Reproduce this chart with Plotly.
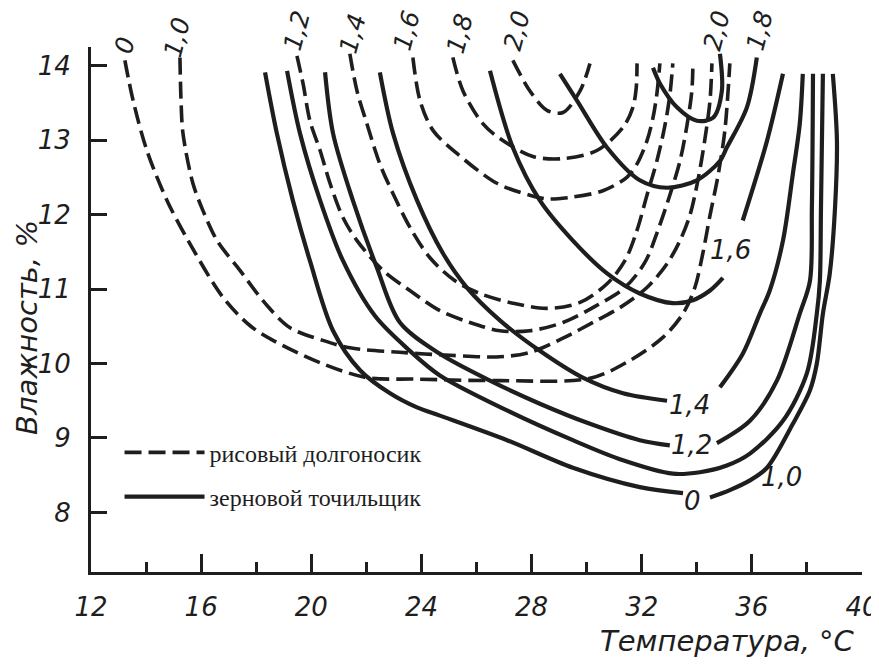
import plotly.graph_objects as go

# ---------------- data (temperature °C, humidity %) ----------------
# рисовый долгоносик (dashed), contour levels 0 ... 2.0
rw_0_T = [13.23, 13.53, 14.03, 14.76, 15.59, 16.79, 17.77, 18.61, 20.32, 22.02, 23.84, 26.85, 30.12, 31.57, 32.77, 33.50, 33.93, 34.22, 34.48, 34.77, 35.02, 35.20]
rw_0_H = [14.07, 13.53, 12.86, 12.19, 11.61, 10.89, 10.51, 10.31, 10.01, 9.81, 9.79, 9.77, 9.80, 10.04, 10.35, 10.67, 11.02, 11.48, 11.99, 12.52, 13.13, 14.03]
rw_10_T = [15.23, 15.27, 15.34, 15.70, 16.07, 16.58, 17.41, 18.32, 19.23, 20.42, 21.40, 23.22, 25.04, 26.85, 27.94, 29.14, 30.37, 31.21, 32.19, 32.92, 33.39, 33.75, 34.04, 34.29, 34.48, 34.55]
rw_10_H = [14.11, 13.53, 13.09, 12.42, 12.05, 11.65, 11.25, 10.81, 10.48, 10.31, 10.21, 10.15, 10.11, 10.09, 10.15, 10.34, 10.58, 10.75, 11.02, 11.34, 11.65, 11.99, 12.46, 13.00, 13.53, 14.03]
rw_12_T = [19.48, 19.70, 19.95, 20.32, 20.68, 21.15, 21.66, 22.60, 23.58, 24.67, 25.76, 26.85, 27.94, 29.14, 30.37, 31.39, 32.12, 32.59, 33.02, 33.39, 33.64, 33.82, 33.86]
rw_12_H = [14.13, 13.76, 13.26, 12.86, 12.42, 11.96, 11.65, 11.25, 10.98, 10.71, 10.55, 10.44, 10.44, 10.55, 10.78, 11.02, 11.36, 11.79, 12.26, 12.72, 13.19, 13.66, 14.03]
rw_14_T = [21.40, 21.66, 22.02, 22.49, 22.97, 23.58, 24.31, 25.22, 26.12, 27.32, 28.56, 29.76, 30.74, 31.39, 31.83, 32.19, 32.55, 32.84, 33.02, 33.13]
rw_14_H = [14.16, 13.66, 13.22, 12.68, 12.28, 11.83, 11.42, 11.11, 10.94, 10.81, 10.74, 10.82, 11.07, 11.38, 11.79, 12.26, 12.72, 13.19, 13.60, 14.03]
rw_16_T = [23.69, 23.95, 24.42, 25.29, 26.74, 27.94, 28.56, 29.39, 30.59, 31.46, 31.83, 32.19, 32.41, 32.55, 32.66]
rw_16_H = [14.11, 13.53, 13.13, 12.82, 12.42, 12.26, 12.21, 12.23, 12.32, 12.50, 12.68, 12.99, 13.30, 13.62, 14.03]
rw_18_T = [25.14, 25.51, 26.23, 26.85, 28.05, 29.14, 30.37, 31.32, 31.68, 31.80, 31.83]
rw_18_H = [14.11, 13.66, 13.22, 13.02, 12.78, 12.75, 12.86, 13.17, 13.44, 13.70, 14.03]
rw_20_T = [27.32, 27.94, 28.56, 29.14, 29.76, 30.12]
rw_20_H = [14.07, 13.66, 13.40, 13.37, 13.66, 14.03]

# зерновой точильщик (solid); None = gap for the inline label
lgb_0_T = [18.32, 18.75, 19.33, 19.95, 20.79, 21.77, 22.86, 23.84, 24.67, 27.11, 29.50, 31.93, 33.50, None,
           34.48, 35.20, 35.93, 36.55, 37.49, 38.11, 38.36, 38.58, 38.83, 39.02, 39.09, 38.94]
lgb_0_H = [13.91, 13.09, 12.19, 11.38, 10.44, 9.91, 9.60, 9.41, 9.30, 8.97, 8.60, 8.34, 8.26, None,
           8.20, 8.30, 8.43, 8.60, 9.19, 9.64, 10.00, 10.67, 11.21, 12.09, 12.99, 13.89]
lgb_10_T = [19.12, 19.59, 20.32, 21.15, 22.31, 23.58, 24.67, 27.11, 29.50, 31.32, 33.13, 34.11, 35.09, 35.93, 37.13, 38.00, 38.36, 38.47, 38.51, 38.58]
lgb_10_H = [13.93, 13.09, 12.19, 11.38, 10.64, 10.17, 9.84, 9.37, 8.97, 8.70, 8.52, 8.54, 8.63, 8.79, 9.23, 9.87, 10.67, 11.11, 12.09, 13.89]
lgb_12_T = [20.50, 20.79, 21.51, 22.38, 23.22, 24.67, 26.49, 28.30, 30.12, 31.93, 33.02, None,
            34.73, 35.93, 36.91, 37.74, 38.11, 38.18, 38.22]
lgb_12_H = [13.91, 13.09, 12.19, 11.29, 10.55, 10.13, 9.77, 9.46, 9.19, 8.97, 8.90, None,
            8.93, 9.23, 9.77, 10.67, 11.11, 12.09, 13.89]
lgb_14_T = [22.49, 22.97, 23.84, 24.78, 25.65, 26.85, 28.30, 29.86, 31.32, 32.92, None,
            34.84, 35.67, 36.29, 36.65, 37.13, 37.49, 37.74, 37.85]
lgb_14_H = [13.91, 13.09, 12.19, 11.48, 11.02, 10.58, 10.17, 9.81, 9.60, 9.50, None,
            9.68, 10.13, 10.67, 10.98, 11.65, 12.55, 13.22, 13.89]
lgb_16_T = [26.49, 27.32, 28.30, 29.50, 30.74, 31.93, 33.13, 33.86, 34.48, 34.95, None, 35.67, 36.55, 37.13]
lgb_16_H = [13.93, 12.90, 12.19, 11.65, 11.21, 10.94, 10.81, 10.85, 10.98, 11.15, None, 11.92, 12.99, 13.89]
lgb_18_T = [29.03, 29.65, 30.74, 31.93, 32.92, 34.00, 34.84, 35.09, 35.82, 36.18]
lgb_18_H = [13.89, 13.53, 12.90, 12.46, 12.36, 12.46, 12.72, 12.90, 13.44, 14.11]
lgb_20_T = [32.41, 32.66, 33.28, 34.00, 34.59, 34.91, 34.84]
lgb_20_H = [13.97, 13.76, 13.44, 13.26, 13.30, 13.66, 14.16]

# contour labels
top_label_text = ["0", "1,0", "1,2", "1,4", "1,6", "1,8", "2,0", "2,0", "1,8"]
top_label_T = [13.23, 15.12, 19.48, 21.51, 23.47, 25.40, 27.47, 34.73, 36.29]
top_label_H = [14.27, 14.38, 14.47, 14.43, 14.47, 14.43, 14.47, 14.47, 14.47]
in_label_text = ["1,6", "1,4", "1,2", "0", "1,0"]
in_label_T = [35.24, 33.75, 33.79, 33.86, 37.09]
in_label_H = [11.52, 9.44, 8.90, 8.16, 8.47]

x_ticks = [12, 16, 20, 24, 28, 32, 36, 40]
x_minor = [14, 18, 22, 26, 30, 34, 38]
y_ticks = [8, 9, 10, 11, 12, 13, 14]
x_range = [12, 40]
y_range = [7.2, 14.25]

series_names = ["рисовый долгоносик", "зерновой точильщик"]
x_title = "Температура, °C"
y_title = "Влажность, %"

dashed_curves = [(rw_0_T, rw_0_H), (rw_10_T, rw_10_H), (rw_12_T, rw_12_H), (rw_14_T, rw_14_H),
                 (rw_16_T, rw_16_H), (rw_18_T, rw_18_H), (rw_20_T, rw_20_H)]
solid_curves = [(lgb_0_T, lgb_0_H), (lgb_10_T, lgb_10_H), (lgb_12_T, lgb_12_H), (lgb_14_T, lgb_14_H),
                (lgb_16_T, lgb_16_H), (lgb_18_T, lgb_18_H), (lgb_20_T, lgb_20_H)]

# ---------------- figure ----------------
GOST = "DejaVu Sans, sans-serif"
INK = "#1e1e1e"
# the page body adds an 8 px margin, so the figure is 8 px smaller than the window
W, HGT = 871, 656
L, R, TOP, B = 83, 17, 39, 92
PW, PH = W - L - R, HGT - TOP - B


def to_paper_x(v):
    return (v - x_range[0]) / (x_range[1] - x_range[0])


def to_paper_y(v):
    return (v - y_range[0]) / (y_range[1] - y_range[0])


fig = go.Figure()

for i, (T, H) in enumerate(dashed_curves):
    fig.add_trace(go.Scatter(
        x=T, y=H, mode="lines", name=series_names[0], legendgroup="a",
        showlegend=(i == 0),
        line=dict(color=INK, width=3.6, dash="17px,7px", shape="spline", smoothing=0.9),
        connectgaps=False, hoverinfo="skip"))

for i, (T, H) in enumerate(solid_curves):
    fig.add_trace(go.Scatter(
        x=T, y=H, mode="lines", name=series_names[1], legendgroup="b",
        showlegend=(i == 0),
        line=dict(color=INK, width=4.2, shape="spline", smoothing=0.9),
        connectgaps=False, hoverinfo="skip"))

# labels above the plot area (outside the y range -> paper coordinates)
for txt, t, h in zip(top_label_text, top_label_T, top_label_H):
    fig.add_annotation(x=to_paper_x(t), y=to_paper_y(h), xref="paper", yref="paper",
                       text=txt, showarrow=False, textangle=-75,
                       xanchor="center", yanchor="middle",
                       font=dict(family=GOST, size=25, color=INK, style="italic"))

for txt, t, h in zip(in_label_text, in_label_T, in_label_H):
    fig.add_annotation(x=t, y=h, xref="x", yref="y", text=txt, showarrow=False,
                       font=dict(family=GOST, size=26, color=INK, style="italic"))

# axis titles (figure-pixel positions converted to paper fractions)
fig.add_annotation(x=(849 - L) / PW, y=(HGT - B - 633) / PH, xref="paper", yref="paper",
                   text=x_title, showarrow=False, xanchor="right", yanchor="middle",
                   font=dict(family=GOST, size=29, color=INK, style="italic"))
fig.add_annotation(x=(19 - L) / PW, y=(HGT - B - 320) / PH, xref="paper", yref="paper",
                   text=y_title, showarrow=False, textangle=-90, xanchor="center", yanchor="middle",
                   font=dict(family=GOST, size=29, color=INK, style="italic"))

fig.update_layout(
    width=W, height=HGT,
    margin=dict(l=L, r=R, t=TOP, b=B, autoexpand=False),
    paper_bgcolor="white", plot_bgcolor="white",
    showlegend=True,
    legend=dict(x=0.037, y=0.27, xanchor="left", yanchor="top", bgcolor="rgba(0,0,0,0)",
                font=dict(family="Liberation Serif, DejaVu Serif, serif", size=24, color=INK),
                tracegroupgap=10, itemwidth=80),
)

fig.update_xaxes(range=x_range, tickmode="array", tickvals=x_ticks, ticktext=[str(v) for v in x_ticks],
                 automargin=False, ticklabeloverflow="allow",
                 showgrid=False, zeroline=False, showline=True, linecolor=INK, linewidth=3,
                 ticks="inside", ticklen=18, tickwidth=3, tickcolor=INK,
                 minor=dict(tickmode="array", tickvals=x_minor, ticks="inside",
                            ticklen=10, tickwidth=3, tickcolor=INK),
                 tickfont=dict(family=GOST, size=26, color=INK, style="italic"),
                 ticklabelstandoff=10)
fig.update_yaxes(range=y_range, tickmode="array", tickvals=y_ticks, ticktext=[str(v) for v in y_ticks],
                 automargin=False, ticklabeloverflow="allow",
                 showgrid=False, zeroline=False, showline=True, linecolor=INK, linewidth=3,
                 ticks="inside", ticklen=16, tickwidth=3, tickcolor=INK,
                 tickfont=dict(family=GOST, size=26, color=INK, style="italic"),
                 ticklabelstandoff=12)

fig.write_html("out.html")
